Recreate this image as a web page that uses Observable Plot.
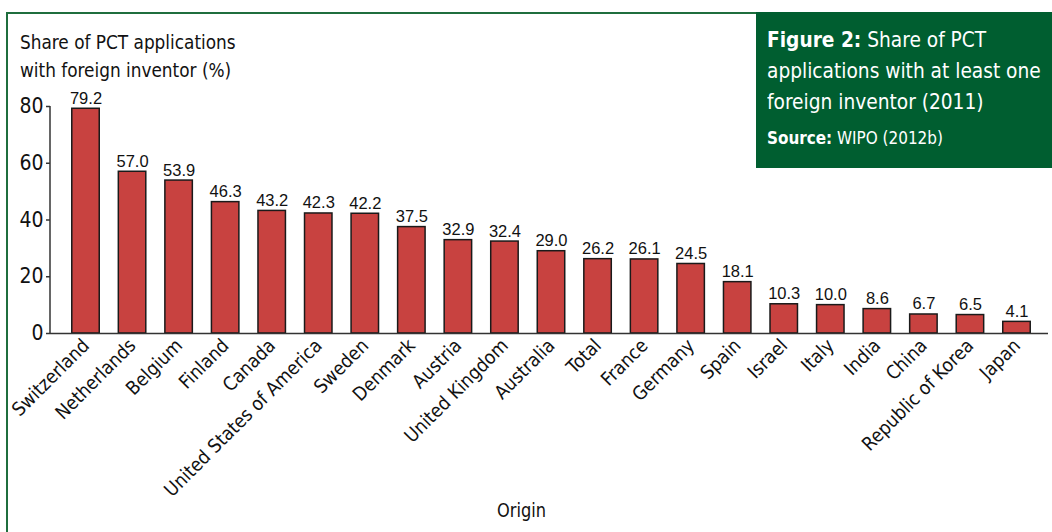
<!DOCTYPE html>
<html>
<head>
<meta charset="utf-8">
<script src="https://cdn.jsdelivr.net/npm/d3@7"></script>
<script src="https://cdn.jsdelivr.net/npm/@observablehq/plot@0.6"></script>
<style>
  body { margin: 0; background: #fff; }
  #wrap { position: relative; width: 1052px; height: 532px; overflow: hidden;
          font-family: "DejaVu Sans", sans-serif; font-stretch: condensed; color: #111; }
  #frame { position: absolute; left: 6px; top: 12px; width: 1200px; height: 700px;
           border-left: 2px solid #1f6e3d; border-top: 2px solid #1f6e3d; }
  #chart { position: absolute; left: 0; top: 0; }
  #ytitle { position: absolute; left: 20px; top: 28px; font-size: 20px; line-height: 28px;
            white-space: nowrap; transform: scaleX(0.94); transform-origin: left top; }
  #note { position: absolute; left: 756px; top: 12px; width: 296px; height: 156px; background: #005e30; }
  #note .inner { position: absolute; left: 11px; top: 12px; color: #fff; white-space: nowrap;
                 transform: scaleX(0.94); transform-origin: left top; }
  #note .t { font-size: 22px; line-height: 31px; }
  #note .s { font-size: 18px; line-height: 24px; margin-top: 9px; }
  #xtitle { position: absolute; left: 497px; top: 498px; font-size: 20px;
            transform: scaleX(0.9); transform-origin: left top; }
</style>
</head>
<body>
<div id="wrap">
  <div id="frame"></div>
  <div id="chart"></div>
  <div id="ytitle">Share of PCT applications<br>with foreign inventor (%)</div>
  <div id="note">
    <div class="inner">
      <div class="t"><b>Figure 2:</b> Share of PCT<br>applications with at least one<br>foreign inventor (2011)</div>
      <div class="s"><b>Source:</b> WIPO (2012b)</div>
    </div>
  </div>
  <div id="xtitle">Origin</div>
</div>
<script>
// Share of PCT applications with at least one foreign inventor, 2011
const origins = [
  "Switzerland", "Netherlands", "Belgium", "Finland", "Canada",
  "United States of America", "Sweden", "Denmark", "Austria", "United Kingdom",
  "Australia", "Total", "France", "Germany", "Spain", "Israel", "Italy",
  "India", "China", "Republic of Korea", "Japan"
];
const shares = [
  79.2, 57.0, 53.9, 46.3, 43.2, 42.3, 42.2, 37.5, 32.9, 32.4,
  29.0, 26.2, 26.1, 24.5, 18.1, 10.3, 10.0, 8.6, 6.7, 6.5, 4.1
];
const yTicks = [0, 20, 40, 60, 80];

const data = origins.map((origin, i) => ({origin, share: shares[i]}));

// vertical axis line along the left edge of the frame, spanning the tick range
function yAxisLine(index, scales, values, dims) {
  const [lo, hi] = d3.extent(yTicks);
  return d3.create("svg:line")
    .attr("x1", dims.marginLeft).attr("x2", dims.marginLeft)
    .attr("y1", scales.y(lo)).attr("y2", scales.y(hi))
    .attr("stroke", "#333").attr("stroke-width", 1.5)
    .node();
}

const plot = Plot.plot({
  width: 1052,
  height: 532,
  marginLeft: 50,
  marginRight: 4,
  marginTop: 106,
  marginBottom: 199,
  style: {fontFamily: "'DejaVu Sans', sans-serif", fontStretch: "condensed", fontSize: "20px", color: "#111", background: "transparent"},
  x: {domain: origins, paddingInner: 0.41, paddingOuter: 0.21, insetLeft: 12, insetRight: 8, round: false},
  y: {domain: [0, 80]},
  marks: [
    Plot.barY(data, {x: "origin", y: "share", fill: "#c84240", stroke: "#1a1a1a", strokeWidth: 1.5}),
    Plot.text(data, {x: "origin", y: "share", text: d => d.share.toFixed(1), lineAnchor: "bottom", dy: -5,
      fontSize: 16.5, fontFamily: "'Liberation Sans', Arial, sans-serif", fill: "#111"}),
    Plot.ruleY([0], {stroke: "#333", strokeWidth: 1.5}),
    yAxisLine,
    Plot.axisY({ticks: yTicks, tickSize: 4, tickPadding: 3, fontSize: 21, label: null, stroke: "#333", strokeWidth: 1.5}),
    Plot.axisX({tickRotate: -45, tickSize: 0, tickPadding: 9, fontSize: 19, label: null})
  ]
});
document.getElementById("chart").append(plot);
</script>
</body>
</html>
